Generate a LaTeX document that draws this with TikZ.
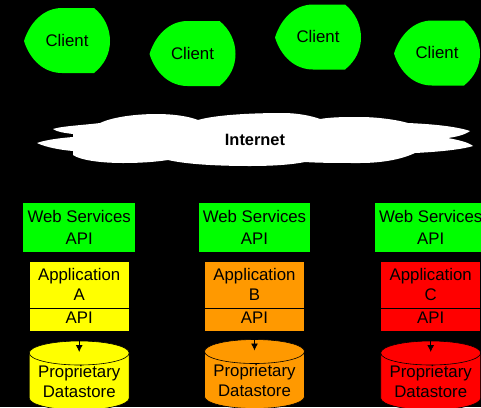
\documentclass[tikz,border=0pt]{standalone}
\usepackage{fontspec}
\setmainfont{Liberation Sans}
\usetikzlibrary{arrows.meta}
\definecolor{clientgreen}{HTML}{00FF00}
\definecolor{appyellow}{HTML}{FFFF00}
\definecolor{apporange}{HTML}{FF9900}
\definecolor{appred}{HTML}{FF0000}
\tikzset{
    label text/.style={font=\fontsize{16.8}{20}\selectfont,align=center,text=black},
    webbox/.style={label text,fill=clientgreen,minimum width=111.7pt,minimum height=48.7pt,inner sep=0pt},
    appbox/.style={label text,draw=black,line width=0.5pt,minimum width=100pt,inner sep=0pt},
    storeline/.style={draw=black,line width=0.6pt},
}
\begin{document}
\begin{tikzpicture}[x=1pt,y=-1pt]
        \useasboundingbox (0,0) rectangle (481,407);
        \fill[black] (0,0) rectangle (481,407);
        \clip (0,0) rectangle (481,407);
        %% clients
        \foreach \cx/\cy/\name in {24/41/clienta,149.5/54/clientb,275/37.5/clientc,394/53.5/clientd} {
            \fill[clientgreen,shift={(\cx,\cy)}] (0,0) .. controls (6,-19) and (20,-33) .. (38,-33) -- (70,-33)
                .. controls (80,-25) and (86,-13) .. (86,0) .. controls (86,13) and (80,24) .. (70,32)
                -- (38,32) .. controls (20,32) and (6,19) .. (0,0) -- cycle;
            \node[label text] (\name) at (\cx+43,\cy-0.7) {Client};
        }
        %% internet
        \fill[white] (53,129) .. controls (62,126) and (85,125) .. (100,123)
            .. controls (115,116) and (140,114) .. (157,114) .. controls (172,114) and (188,116) .. (198,120)
            .. controls (215,115) and (250,113) .. (283,113) .. controls (298,113) and (312,116) .. (320,119)
            .. controls (332,117) and (345,117) .. (360,117) .. controls (378,117) and (398,120) .. (408,123)
            .. controls (430,124) and (455,126) .. (470,131) .. controls (465,135) and (455,137) .. (448,138)
            .. controls (458,140) and (468,142) .. (473,146) .. controls (460,150) and (435,152) .. (415,153)
            .. controls (400,160) and (380,163) .. (360,163) .. controls (340,163) and (320,163) .. (305,162)
            .. controls (290,165) and (270,166) .. (250,166) .. controls (215,166) and (185,164) .. (168,160)
            .. controls (155,162) and (140,163) .. (123,163) .. controls (100,163) and (80,160) .. (73,155)
            -- (73,151) .. controls (60,150) and (45,147) .. (37,143) .. controls (45,140) and (60,138) .. (73,137)
            -- (73,134) .. controls (65,133) and (57,132) .. (53,129) -- cycle;
        \node[label text,font=\fontsize{16.4}{20}\selectfont\bfseries] (internet) at (255,140) {Internet};
        %% columns
        \foreach \x/\name/\col/\top in {79.2/A/appyellow/341,254.5/B/apporange/339.5,430.7/C/appred/341} {
            \node[webbox] (web\name) at (\x,227.3) {Web Services\\[1.5pt]API};
            \node[appbox,fill=\col,minimum height=46.6pt] (app\name) at (\x,284.6) {Application\\\name};
            \node[appbox,fill=\col,minimum height=22.7pt,text depth=4pt] (api\name) at (\x,319.7) {API};
            %% datastore
            \filldraw[storeline,fill=\col,shift={(\x,\top)}] (-50,12)
                arc[x radius=50,y radius=12,start angle=180,end angle=360] -- (50,57)
                arc[x radius=50,y radius=12,start angle=0,end angle=180] -- cycle;
            \draw[storeline,shift={(\x,\top)}] (-50,12) arc[x radius=50,y radius=12,start angle=180,end angle=0];
            \node[label text] (data\name) at (\x,\top+40.5) {Proprietary\\Datastore};
            \coordinate (tip\name) at (\x,\top+11);
            \draw[-{Latex[length=7pt,width=7pt]},line width=0.8pt] (api\name.south) -- (tip\name);
        }
    \end{tikzpicture}
\end{document}
